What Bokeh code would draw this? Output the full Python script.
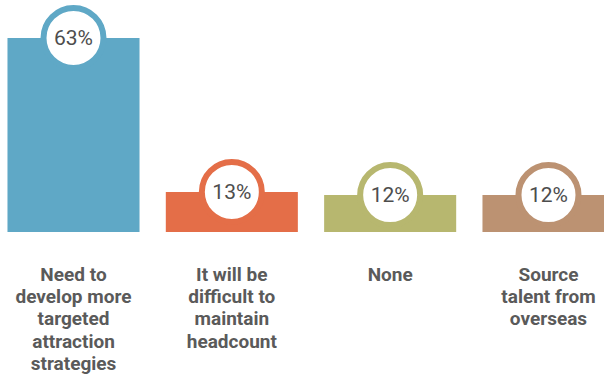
from bokeh.plotting import figure
from bokeh.models import ColumnDataSource
from bokeh.core.properties import value
from bokeh.embed import file_html
from bokeh.resources import INLINE

categories = ["Need to\ndevelop more\ntargeted\nattraction\nstrategies",
              "It will be\ndifficult to\nmaintain\nheadcount",
              "None",
              "Source\ntalent from\noverseas"]
values = [63, 13, 12, 12]
colors = ["#5fa8c6", "#e46e48", "#b7b76f", "#bc9272"]

idx = list(range(len(values)))
src = ColumnDataSource(dict(
    x=idx, top=values, color=colors,
    pct=[f"{v}%" for v in values],
    label=categories,
    ly=[-10.1] * len(values),
))

W, H = 604, 377
px_per_unit = 158.33
x_start = -73 / px_per_unit
px_per_pct = 3.08
y_start = -145.5 / px_per_pct

p = figure(width=W, height=H, output_backend="svg", toolbar_location=None,
           x_range=(x_start, x_start + W / px_per_unit),
           y_range=(y_start, y_start + H / px_per_pct),
           min_border=0, outline_line_color=None)
p.axis.visible = False
p.grid.visible = False
p.background_fill_color = "white"
p.border_fill_color = "white"

p.vbar(x="x", top="top", bottom=0, width=0.834, fill_color="color",
       line_color=None, source=src)
p.scatter(x="x", y="top", size=60, marker="circle", fill_color="white",
          line_color="color", line_width=6, source=src)
p.text(x="x", y="top", text="pct", source=src, text_align="center",
       text_baseline="middle", text_font=value("Roboto"),
       text_font_size="21px", text_color="#4d4d4d")
p.text(x="x", y="ly", text="label", source=src, text_align="center",
       text_baseline="top", text_font=value("Roboto"),
       text_font_style="bold", text_font_size="19px", text_color="#5a5a5a",
       text_line_height=0.965)

open("out.html", "w").write(file_html(p, INLINE))
